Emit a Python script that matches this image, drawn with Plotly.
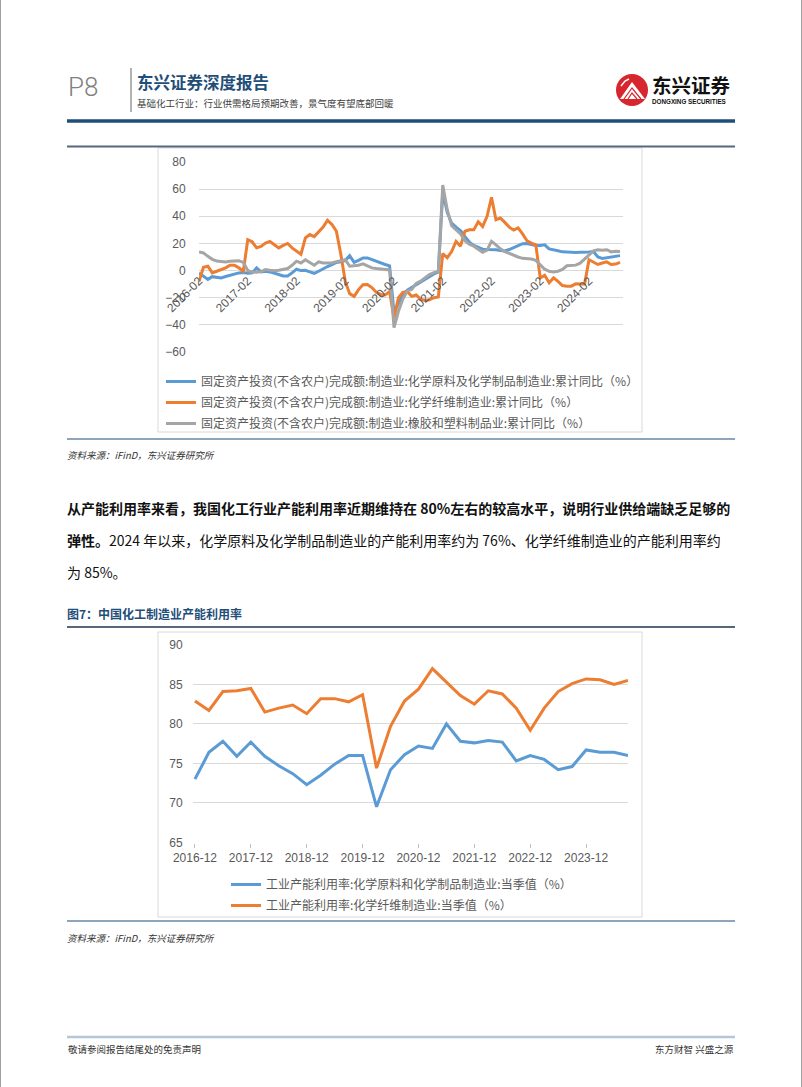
import plotly.graph_objects as go

W, H = 802, 1087
def X(px): return px / W
def Y(py): return 1 - py / H

# ---------------- Chart 1 data (cumulative YoY, %) ----------------
months1 = []
for yr in range(2016, 2024):
    for m in range(2, 13):
        months1.append(f"{yr}-{m:02d}")
for m in range(2, 10):
    months1.append(f"2024-{m:02d}")
ticks1 = [f"{yr}-02" for yr in range(2016, 2025)]

fai_chem = [-1.7, -4, -6.5, -4.5, -5, -5.4, -4.4, -3.4, -2.4, -1.7, -1.5,
            -2, -1.7, 2, -1, -0.5, -1, -1.7, -2.9, -4, -4, -1.7,
            1, 0, 0.2, -1, -2, -0.5, 1.5, 3, 4.4, 6, 6.5,
            7.5, 11, 6, 7.5, 9.3, 9.3, 8, 7, 5.8, 4.5, 3.5,
            -31, -24, -18, -14.5, -12.5, -10.5, -8.5, -7, -4.5, -2.5, -1.2,
            58, 43, 35, 32, 29.5, 25, 21, 18.5, 17, 15.8, 15.5,
            15.5, 15.4, 14.8, 14.5, 15.5, 17, 18.5, 19.8, 20, 19, 18.5,
            18.5, 19, 16, 15.5, 14.6, 13.8, 13.5, 13.2, 13.4, 13.5, 13.4,
            13.7, 14, 10, 9, 9.5, 9.8, 10.3, 11]
fai_fiber = [-8, 2.4, 3.2, -1.7, -0.5, 0.7, 2, 3.9, 3.9, 2, -0.5,
             22.7, 21.2, 16.8, 17.8, 20.2, 21.5, 19, 16.7, 18.5, 20, 16.7,
             14, 12, 24, 26.5, 25, 28.4, 32, 37, 34, 29, 12,
             -8, -17, -19, -14, -10.5, -10.3, -12.5, -16, -17.6, -18, -15.5,
             -35, -20, -16, -15.5, -19, -18, -21, -22, -21.5, -20, -19.5,
             12.5, 9.5, 14, 21.5, 18, 29, 30, 30, 36, 32.5, 40,
             54, 37.5, 38.7, 35.5, 32, 29.8, 31.5, 27, 22, 20.3, 19,
             -5.5, -3.5, -9, -5.4, -8, -11, -11.5, -11.5, -9.8, -10, -10,
             8, 6.3, 4.5, 5.6, 6.4, 4.5, 4.8, 6]
fai_rubber = [13.7, 13, 10.5, 8.3, 7, 6.4, 6.3, 6.8, 7, 7.3, 6,
              0, -1, -1.2, -0.8, 0.7, 0.2, -0.2, 0.3, 1, 1.5, 3.9,
              6.9, 5.6, 8, 6, 3.9, 6.4, 5.6, 5.5, 5.6, 6.5, 7,
              8, 3.2, 3.5, 3.9, 5, 3.5, 2, 1.5, 1.2, 0.7, 0.5,
              -42, -30, -21, -15, -14, -9.5, -7.8, -5.5, -3, -1.5, -0.5,
              63, 45, 33, 30, 27, 22, 19.5, 18, 15.5, 13.5, 15,
              21.5, 19, 16, 14, 12.5, 11, 10, 9, 9, 8.5, 7.5,
              4, 1, -0.5, -1, -0.5, 0.8, 3.5, 3.9, 4, 5.5, 8.5,
              11.5, 14.5, 15.3, 15, 15.4, 13.8, 14.2, 14]
names1 = ["固定资产投资(不含农户)完成额:制造业:化学原料及化学制品制造业:累计同比（%）",
          "固定资产投资(不含农户)完成额:制造业:化学纤维制造业:累计同比（%）",
          "固定资产投资(不含农户)完成额:制造业:橡胶和塑料制品业:累计同比（%）"]

# ---------------- Chart 2 data (capacity utilization, %) ----------------
quarters2 = []
for yr in range(2016, 2025):
    for m in (3, 6, 9, 12):
        q = f"{yr}-{m:02d}"
        if "2016-12" <= q <= "2024-09":
            quarters2.append(q)
ticks2 = [f"{yr}-12" for yr in range(2016, 2024)]
cu_chem = [73.0, 76.4, 77.8, 75.9, 77.7, 75.9, 74.7, 73.7, 72.3, 73.5, 74.9,
           76.0, 76.0, 69.5, 74.2, 76.1, 77.2, 76.9, 80.0, 77.8, 77.6, 77.9,
           77.7, 75.3, 76.0, 75.5, 74.2, 74.6, 76.7, 76.4, 76.4, 76.0]
cu_fiber = [82.9, 81.7, 84.1, 84.2, 84.5, 81.5, 82.0, 82.4, 81.3, 83.2, 83.2,
            82.8, 83.7, 74.4, 79.7, 82.9, 84.4, 87.0, 85.3, 83.6, 82.5, 84.2,
            83.8, 82.0, 79.2, 82.0, 84.1, 85.1, 85.7, 85.6, 85.0, 85.5]
names2 = ["工业产能利用率:化学原料和化学制品制造业:当季值（%）",
          "工业产能利用率:化学纤维制造业:当季值（%）"]

BLUE, ORANGE, GRAY = "#5B9BD5", "#ED7D31", "#A5A5A5"
CJK = "Noto Sans CJK SC"
NUM = "Liberation Sans, Arial, sans-serif"
TXT = "#595959"

fig = go.Figure()
for k, (vals, nm, col) in enumerate(zip([fai_chem, fai_fiber, fai_rubber], names1, [BLUE, ORANGE, GRAY])):
    fig.add_trace(go.Scatter(x=months1, y=vals, name=nm, mode="lines",
                             line=dict(color=col, width=3), xaxis="x", yaxis="y",
                             legend="legend", legendgroup=f"a{k}"))
for k, (vals, nm, col) in enumerate(zip([cu_chem, cu_fiber], names2, [BLUE, ORANGE])):
    fig.add_trace(go.Scatter(x=quarters2, y=vals, name=nm, mode="lines",
                             line=dict(color=col, width=3), xaxis="x2", yaxis="y2",
                             legend="legend2", legendgroup=f"b{k}"))

# chart 1 geometry
y1_top, y1_bot = 162.0, 352.0          # pixel of 80 and -60
s1 = (y1_bot - y1_top) / 140.0
zero_px = y1_top + 80 * s1
# chart 2 geometry
y2_top, y2_bot = 645.0, 842.3          # pixel of 90 and 65
s2 = (y2_bot - y2_top) / 25.0

fig.update_layout(
    template="none", autosize=False,
    width=W, height=H, margin=dict(l=0, r=0, t=0, b=0, pad=0, autoexpand=False),
    paper_bgcolor="white", plot_bgcolor="rgba(0,0,0,0)",
    xaxis=dict(domain=[X(199), X(622.7)], anchor="free", position=Y(zero_px),
               type="category", range=[0, 95.6], tickmode="array",
               tickvals=ticks1, ticktext=ticks1, tickangle=-45, automargin=False,
               showgrid=False, showline=False, zeroline=False, ticks="",
               tickfont=dict(family=NUM, size=12, color=TXT)),
    yaxis=dict(domain=[Y(y1_bot + 0.5 * s1), Y(y1_top - 0.5 * s1)], anchor="x",
               range=[-60.5, 80.5], tickmode="array", tickvals=list(range(-60, 81, 20)),
               showgrid=True, gridcolor="#D9D9D9", gridwidth=1, zeroline=False,
               showline=False, ticks="outside", ticklen=10, tickcolor="rgba(0,0,0,0)",
               automargin=False, tickfont=dict(family=NUM, size=12, color=TXT)),
    xaxis2=dict(domain=[X(193), X(628)], anchor="y2", type="category",
                range=[-0.14, 31], tickmode="array", tickvals=ticks2, ticktext=ticks2,
                tickangle=0, showgrid=False, showline=False, zeroline=False,
                ticks="outside", ticklen=4, tickcolor="#BFBFBF", automargin=False,
                tickfont=dict(family=NUM, size=12, color=TXT)),
    yaxis2=dict(domain=[Y(y2_bot + 0.1 * s2), Y(y2_top - 0.1 * s2)], anchor="x2",
                range=[64.9, 90.1], tickmode="array", tickvals=list(range(65, 91, 5)),
                showgrid=True, gridcolor="#D9D9D9", gridwidth=1, zeroline=False,
                showline=False, ticks="outside", ticklen=7, tickcolor="rgba(0,0,0,0)",
                automargin=False, tickfont=dict(family=NUM, size=12, color=TXT)),
    legend=dict(x=X(161), y=Y(367), xanchor="left", yanchor="top",
                bgcolor="rgba(0,0,0,0)", font=dict(family=CJK, size=12, color=TXT),
                traceorder="grouped", tracegroupgap=2, itemwidth=30),
    legend2=dict(x=X(226), y=Y(870), xanchor="left", yanchor="top",
                 bgcolor="rgba(0,0,0,0)", font=dict(family=CJK, size=12, color=TXT),
                 traceorder="grouped", tracegroupgap=2, itemwidth=30),
    showlegend=True,
)

shapes = []
def hline(x0, x1, y, color, width):
    shapes.append(dict(type="line", xref="paper", yref="paper", x0=X(x0), x1=X(x1),
                       y0=Y(y), y1=Y(y), line=dict(color=color, width=width)))
def vline(x, y0, y1, color, width):
    shapes.append(dict(type="line", xref="paper", yref="paper", x0=X(x), x1=X(x),
                       y0=Y(y0), y1=Y(y1), line=dict(color=color, width=width)))
def rect(x0, y0, x1, y1, color, width=1, fill="rgba(0,0,0,0)"):
    shapes.append(dict(type="rect", xref="paper", yref="paper", x0=X(x0), x1=X(x1),
                       y0=Y(y1), y1=Y(y0), line=dict(color=color, width=width),
                       fillcolor=fill, layer="below"))

# page borders
vline(0.5, 0, H, "#A0A0A0", 1)
vline(801.5, 0, H, "#A0A0A0", 1)
# header
vline(131, 68, 112, "#9A9A9A", 1.5)
hline(67, 735, 121, "#1F4E79", 3.5)
# logo circle
shapes.append(dict(type="circle", xref="paper", yref="paper", x0=X(616), x1=X(648),
                   y0=Y(106), y1=Y(74), fillcolor="#D7262E", line=dict(width=0)))
def path(pts, color, width, fill=None):
    d = "M " + " L ".join(f"{X(a)},{Y(b)}" for a, b in pts)
    if fill:
        d += " Z"
    shapes.append(dict(type="path", xref="paper", yref="paper", path=d,
                       line=dict(color=color, width=width),
                       fillcolor=fill if fill else "rgba(0,0,0,0)"))
path([(620, 99), (632, 82), (645, 99)], "white", 0, fill="white")
path([(624, 99), (632, 88), (641, 99)], "#D7262E", 1.2)
path([(628, 99), (632, 93), (637, 99)], "#D7262E", 1.2)
path([(621, 86), (625, 81), (629, 79)], "white", 1.5)
# chart 1 frame
hline(67, 735, 146.5, "#56697C", 2)
rect(158, 148, 642, 432, "#D9D9D9", 1)
hline(67, 735, 439, "#8EA5BC", 2)
# chart 2 frame
hline(67, 735, 627, "#56697C", 2)
rect(158, 632, 642, 917, "#D9D9D9", 1)
hline(67, 735, 921, "#8EA5BC", 2)
# footer line
hline(67, 735, 1037, "#B4C6D8", 2.5)
fig.update_layout(shapes=shapes)

anns = []
def text(x, y, s, size, color="#222222", family=CJK, xanchor="left", bold=False,
         italic=False, weight=None):
    f = dict(family=family, size=size, color=color)
    if italic:
        f["style"] = "italic"
    if weight is not None:
        f["weight"] = weight
    anns.append(dict(x=X(x), y=Y(y), xref="paper", yref="paper", text=(f"<b>{s}</b>" if bold else s),
                     showarrow=False, xanchor=xanchor, yanchor="middle", font=f,
                     borderpad=0))

text(67, 87, "P8", 26, color="#808080", family="Roboto, Liberation Sans", weight=300)
text(136, 82, "东兴证券深度报告", 16.5, color="#1F4E79", bold=True)
text(136, 103, "基础化工行业：行业供需格局预期改善，景气度有望底部回暖", 9.5, color="#404040")
text(651, 85, "东兴证券", 19.5, color="#111111", bold=True)
text(651, 101, "DONGXING SECURITIES", 6.3, color="#111111", family=NUM, bold=True)
text(66, 455, "资料来源：iFinD，东兴证券研究所", 9.5, color="#333333", italic=True)
text(66, 508, "从产能利用率来看，我国化工行业产能利用率近期维持在 80%左右的较高水平，说明行业供给端缺乏足够的",
     14, color="#111111", bold=True)
text(66, 540, "<b>弹性。</b>2024 年以来，化学原料及化学制品制造业的产能利用率约为 76%、化学纤维制造业的产能利用率约",
     14, color="#111111")
text(66, 572, "为 85%。", 14, color="#111111")
text(66, 613, "图7：中国化工制造业产能利用率", 12, color="#1F4E79", bold=True)
text(66, 938, "资料来源：iFinD，东兴证券研究所", 9.5, color="#333333", italic=True)
text(67, 1049, "敬请参阅报告结尾处的免责声明", 9.5, color="#333333")
text(735, 1049, "东方财智 兴盛之源", 9.5, color="#333333", xanchor="right")
fig.update_layout(annotations=anns)

fig.write_html("out.html", config={"displayModeBar": False},
               post_script="document.body.style.margin='0';document.body.style.overflow='hidden';")
